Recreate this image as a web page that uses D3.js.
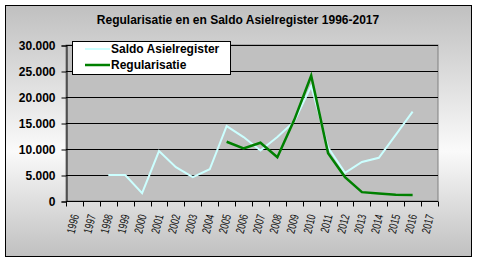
<!DOCTYPE html>
<html>
<head>
<meta charset="utf-8">
<script src="https://cdn.jsdelivr.net/npm/d3@7"></script>
<style>
  body { margin: 0; background: #fff; }
  svg { display: block; font-family: "Liberation Sans", Arial, sans-serif; }
</style>
</head>
<body>
<svg id="chart" width="477" height="261"></svg>
<script>
var years = ["1996","1997","1998","1999","2000","2001","2002","2003","2004","2005","2006",
             "2007","2008","2009","2010","2011","2012","2013","2014","2015","2016","2017"];
// null = geen waarde
var saldo = [null, null, 5000, 5000, 1500, 9600, 6500, 4600, 6100, 14400, 12300,
             9700, 12300, 15300, 22100, 10300, 5400, 7500, 8300, 12700, 17200, null];
var regularisatie = [null, null, null, null, null, null, null, null, null, 11400, 10100,
             11200, 8400, 15600, 24100, 9200, 4600, 1700, 1450, 1200, 1150, null];
var yTicks = [0, 5000, 10000, 15000, 20000, 25000, 30000];

var svg = d3.select("#chart"),
    margin = {top: 45, right: 39, bottom: 60, left: 66},
    width = +svg.attr("width") - margin.left - margin.right,
    height = +svg.attr("height") - margin.top - margin.bottom;

/* achtergrond met verloop */
var grad = svg.append("defs").append("linearGradient")
    .attr("id", "bg").attr("x1", 0).attr("y1", 0).attr("x2", 0).attr("y2", 1);
grad.append("stop").attr("offset", "0%").attr("stop-color", "#c0c0c0");
grad.append("stop").attr("offset", "58%").attr("stop-color", "#fafafa");
grad.append("stop").attr("offset", "100%").attr("stop-color", "#c0c0c0");

svg.append("rect")
    .attr("x", 5.5).attr("y", 5.5)
    .attr("width", 466).attr("height", 251)
    .attr("fill", "url(#bg)")
    .attr("stroke", "#000");

svg.append("text")
    .attr("x", 238).attr("y", 24)
    .attr("text-anchor", "middle")
    .attr("font-size", 12).attr("font-weight", "bold")
    .text("Regularisatie en en Saldo Asielregister 1996-2017");

var g = svg.append("g").attr("transform", "translate(" + margin.left + "," + margin.top + ")");

var x = d3.scaleBand().domain(years).range([0, width]);
var y = d3.scaleLinear().domain([0, 30000]).range([height, 0]);

g.append("rect")
    .attr("width", width).attr("height", height)
    .attr("fill", "#c0c0c0")
    .attr("stroke", "#808080");

/* rasterlijnen */
g.append("g")
  .selectAll("line")
  .data(yTicks.slice(1))
  .enter().append("line")
    .attr("x1", 0).attr("x2", width)
    .attr("y1", function(d) { return Math.round(y(d)) + 0.5; })
    .attr("y2", function(d) { return Math.round(y(d)) + 0.5; })
    .attr("stroke", "#000");

/* Y as */
var fmt = function(d) { return d3.format(",")(d).replace(/,/g, "."); };
var yAxis = g.append("g")
    .attr("transform", "translate(0.5,0.5)")
    .call(d3.axisLeft(y).tickValues(yTicks).tickSize(5).tickPadding(6).tickFormat(fmt));
yAxis.select(".domain").attr("stroke", "#000");
yAxis.selectAll("text")
    .attr("font-size", 12).attr("font-weight", "bold")
    .attr("font-family", "Liberation Sans, Arial, sans-serif").attr("fill", "#000");

/* X as */
var xAxis = g.append("g").attr("transform", "translate(0," + (height + 0.5) + ")");
xAxis.append("line").attr("x1", 0).attr("x2", width).attr("stroke", "#000");
xAxis.selectAll(".tick")
  .data(years.concat(["end"]))
  .enter().append("line")
    .attr("x1", function(d, i) { return Math.round(i * x.step()) + 0.5; })
    .attr("x2", function(d, i) { return Math.round(i * x.step()) + 0.5; })
    .attr("y1", 0).attr("y2", 5)
    .attr("stroke", "#000");
xAxis.selectAll("text")
  .data(years)
  .enter().append("text")
    .attr("transform", function(d) {
      return "translate(" + (x(d) + x.bandwidth() / 2 + 0.5) + ",13) rotate(-76) scale(0.72,1)";
    })
    .attr("text-anchor", "end")
    .attr("dy", "0.35em")
    .attr("font-size", 12)
    .attr("fill", "#111")
    .text(function(d) { return d; });

/* lijnen */
var line = function(vals) {
  return d3.line()
    .defined(function(d) { return d != null; })
    .x(function(d, i) { return x(years[i]) + x.bandwidth() / 2; })
    .y(function(d) { return y(d); })(vals);
};

g.append("path")
    .attr("d", line(saldo))
    .attr("fill", "none")
    .attr("stroke", "#ccffff")
    .attr("stroke-width", 2);

g.append("path")
    .attr("d", line(regularisatie))
    .attr("fill", "none")
    .attr("stroke", "#008000")
    .attr("stroke-width", 2.5);

/* Legenda */
var series = [{name: "Saldo Asielregister", color: "#ccffff", w: 2},
              {name: "Regularisatie", color: "#008000", w: 2.5}];
var legend = svg.append("g");
legend.append("rect")
    .attr("x", 72.5).attr("y", 41.5)
    .attr("width", 158).attr("height", 33)
    .attr("fill", "#fff").attr("stroke", "#000");
var item = legend.selectAll(".item")
  .data(series)
  .enter().append("g")
    .attr("transform", function(d, i) { return "translate(0," + (49 + i * 16) + ")"; });
item.append("line")
    .attr("x1", 85).attr("x2", 110)
    .attr("stroke", function(d) { return d.color; })
    .attr("stroke-width", function(d) { return d.w; });
item.append("text")
    .attr("x", 111)
    .attr("dy", "0.35em")
    .attr("font-size", 12).attr("font-weight", "bold")
    .text(function(d) { return d.name; });
</script>
</body>
</html>
